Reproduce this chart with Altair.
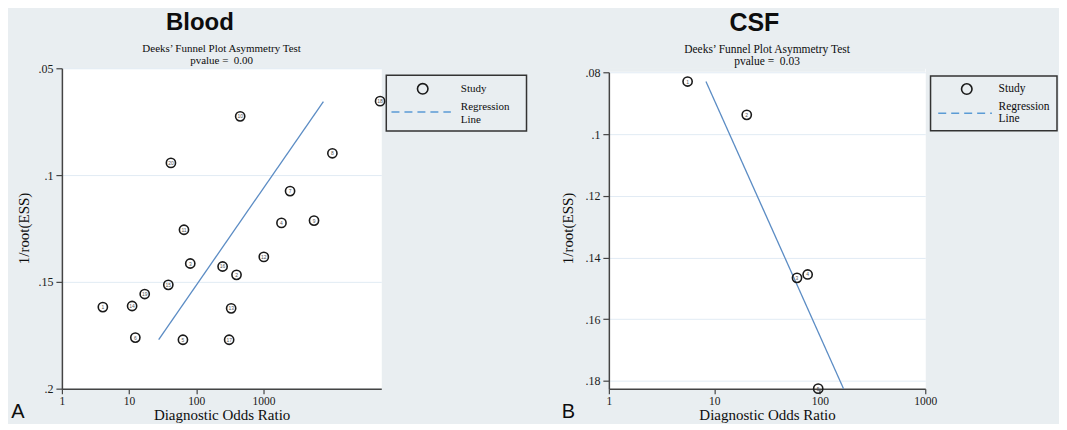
import altair as alt
import pandas as pd

# ---------------- data ----------------
# Panel A (Blood)
blood_study = [18, 10, 20, 8, 7, 4, 9, 11, 12, 3, 16, 2, 15, 19, 1, 14, 13, 6, 5, 17]
blood_dor = [54600, 451, 42, 10640, 2494, 1858, 5670, 65.7, 1014, 81.5, 247, 398,
             38.4, 17.1, 4.07, 11.1, 331, 12.4, 63.4, 309]
blood_iress = [0.0654, 0.0725, 0.0943, 0.0898, 0.1075, 0.1224, 0.1213, 0.1256, 0.1383,
               0.1414, 0.1428, 0.1467, 0.1514, 0.1557, 0.1618, 0.1613, 0.1624, 0.1761,
               0.1771, 0.1771]
blood_reg_dor = [27.6, 7816]
blood_reg_iress = [0.1770, 0.0656]
blood_pvalue = "pvalue =\u00a0 0.00"

# Panel B (CSF)
csf_study = [1, 2, 3, 4, 5]
csf_dor = [5.58, 20.3, 60.8, 76.7, 96.6]
csf_iress = [0.0830, 0.0938, 0.1466, 0.1455, 0.1825]
csf_reg_dor = [8.33, 168]
csf_reg_iress = [0.0830, 0.1825]
csf_pvalue = "pvalue =\u00a0 0.03"

x_ticks = [1, 10, 100, 1000]
blood_y_ticks = [0.05, 0.1, 0.15, 0.2]
csf_y_ticks = [0.08, 0.1, 0.12, 0.14, 0.16, 0.18]

BG = "#e9eef1"
SERIF = "Liberation Serif"
SANS = "Liberation Sans"
one = pd.DataFrame({"k": [0]})


def txt(s, x, y, size, font=SERIF, weight="normal", align="center", baseline="alphabetic"):
    return alt.Chart(one).mark_text(
        text=s, font=font, fontSize=size, fontWeight=weight, align=align,
        baseline=baseline, color="#0d0d0d"
    ).encode(x=alt.value(x), y=alt.value(y))


def panel(study, dor, iress, reg_dor, reg_iress, W, H, xmax, ydom, yrange, yticks,
          title, title_x, title_size, sub_size, sub_base, pv_text, pv_base, title_base,
          ytitle_x, leg, leg_font, letter, letter_x):
    pts = pd.DataFrame({"study": study, "dor": dor, "iress": iress})
    reg = pd.DataFrame({"dor": reg_dor, "iress": reg_iress})

    xenc = alt.X("dor:Q", scale=alt.Scale(type="log", domain=[1, xmax], nice=False),
                 axis=alt.Axis(values=x_ticks, format="d", grid=False,
                               title="Diagnostic Odds Ratio", titleFont=SERIF,
                               titleFontSize=15, titleFontWeight="normal",
                               titleColor="#0d0d0d", titleX=W / 2, titleY=31,
                               titleAlign="center", titleBaseline="alphabetic",
                               labelFont=SERIF, labelFontSize=11.5, labelColor="#1a1a1a",
                               labelPadding=2, labelFlush=False, tickSize=5,
                               tickColor="#444444", tickWidth=1.2,
                               domainColor="#444444", domainWidth=1.5))
    yenc = alt.Y("iress:Q", scale=alt.Scale(domain=ydom, range=yrange, nice=False, zero=False),
                 axis=alt.Axis(values=yticks,
                               labelExpr="replace(format(datum.value, '.2~f'), '0.', '.')",
                               grid=True, gridColor="#e1ebf4", gridWidth=1,
                               title="1/root(ESS)", titleFont=SERIF, titleFontSize=15,
                               titleFontWeight="normal", titleColor="#0d0d0d",
                               titleX=ytitle_x, titleY=160, titleAngle=270,
                               titleAlign="center", titleBaseline="alphabetic",
                               labelFont=SERIF, labelFontSize=12, labelColor="#1a1a1a",
                               labelPadding=3, labelFlush=False, tickSize=6,
                               tickColor="#444444", tickWidth=1.2,
                               domainColor="#444444", domainWidth=1.5))

    layers = []
    if yrange[0] > 0:
        layers.append(alt.Chart(one).mark_rect(fill=BG).encode(
            x=alt.value(0), x2=alt.value(W), y=alt.value(0), y2=alt.value(yrange[0] - 0.5)))
    layers.append(alt.Chart(reg).mark_line(color="#5b8cc4", strokeWidth=1.3).encode(x=xenc, y=yenc))
    layers.append(alt.Chart(pts).mark_point(shape="circle", filled=False, size=85,
                                            stroke="#1a1a1a", strokeWidth=1.6, opacity=1)
                  .encode(x="dor:Q", y="iress:Q"))
    layers.append(alt.Chart(pts).mark_text(font=SANS, fontSize=5, color="#555555")
                  .encode(x="dor:Q", y="iress:Q", text="study:N"))

    # titles
    layers.append(txt(title, title_x, title_base, title_size, font=SANS, weight="bold"))
    layers.append(txt("Deeks\u2019 Funnel Plot Asymmetry Test", W / 2, sub_base, sub_size))
    layers.append(txt(pv_text, W / 2, pv_base, sub_size))

    # legend box
    bx1, by1, bx2, by2, cx, cy, tx, dx1, dx2, dy, ry, ly = leg
    layers.append(alt.Chart(one).mark_rect(fill=BG, stroke="#333333", strokeWidth=1.5).encode(
        x=alt.value(bx1), x2=alt.value(bx2), y=alt.value(by1), y2=alt.value(by2)))
    layers.append(alt.Chart(one).mark_point(shape="circle", filled=False, size=110,
                                            stroke="#1a1a1a", strokeWidth=1.6, opacity=1)
                  .encode(x=alt.value(cx), y=alt.value(cy)))
    layers.append(alt.Chart(one).mark_rule(color="#5b9bd5", strokeWidth=1.5, strokeDash=[8, 5])
                  .encode(x=alt.value(dx1), x2=alt.value(dx2), y=alt.value(dy)))
    layers.append(txt("Study", tx, cy, leg_font, align="left", baseline="middle"))
    layers.append(txt("Regression", tx, ry, leg_font, align="left", baseline="middle"))
    layers.append(txt("Line", tx, ly, leg_font, align="left", baseline="middle"))

    # panel letter
    layers.append(txt(letter, letter_x, 350.5, 20, font=SANS, align="left"))

    return alt.layer(*layers).properties(width=W, height=H)


left = panel(blood_study, blood_dor, blood_iress, blood_reg_dor, blood_reg_iress,
             W=320, H=321, xmax=56900, ydom=[0.05, 0.2], yrange=[0, 321],
             yticks=blood_y_ticks, title="Blood", title_x=138.3, title_size=24,
             sub_size=11, sub_base=-16, pv_text=blood_pvalue, pv_base=-4.5,
             title_base=-38.3, ytitle_x=-33.7,
             leg=(325, 7.1, 465.5, 62.9, 361.5, 20.6, 399.7, 330.2, 389.7, 43.7, 39.0, 51.5),
             leg_font=11, letter="A", letter_x=-50.7)

right = panel(csf_study, csf_dor, csf_iress, csf_reg_dor, csf_reg_iress,
              W=317, H=321, xmax=1000, ydom=[0.08, 0.1825], yrange=[4, 321],
              yticks=csf_y_ticks, title="CSF", title_x=145.8, title_size=25,
              sub_size=11.5, sub_base=-15, pv_text=csf_pvalue, pv_base=-3,
              title_base=-37.4, ytitle_x=-36.6,
              leg=(322.3, 7.7, 449, 62.5, 358.6, 20.8, 390.5, 330, 383.8, 45, 38.6, 51),
              leg_font=11.5, letter="B", letter_x=-47.3)

chart = alt.hconcat(left, right, spacing=228, bounds="flush").configure(
    background=BG,
    padding={"left": 2, "top": 2, "right": 0, "bottom": 0},
).configure_view(fill="white", stroke="transparent")

chart.save("out.html", embed_options={"renderer": "svg", "actions": False})
